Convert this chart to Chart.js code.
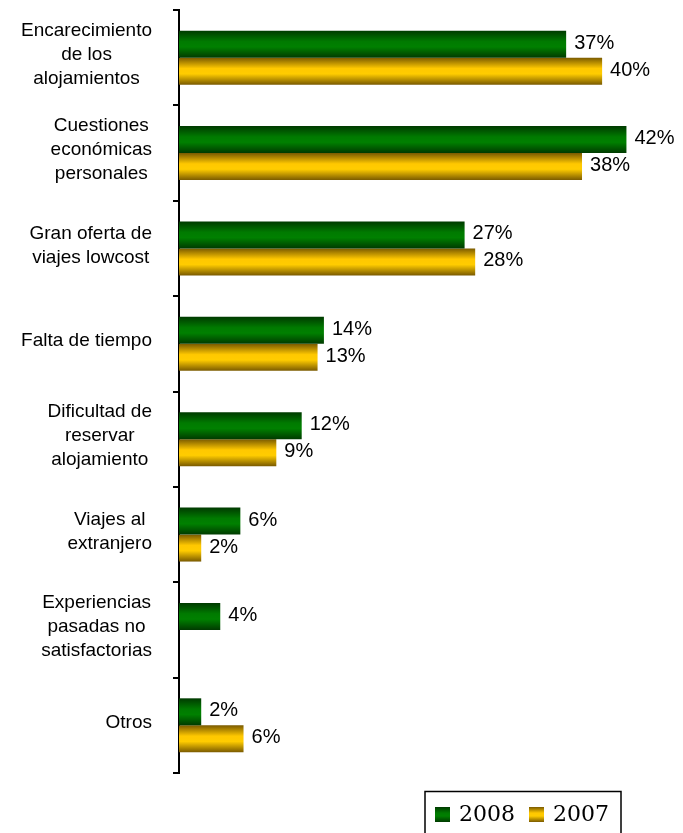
<!DOCTYPE html>
<html>
<head>
<meta charset="utf-8">
<script src="https://cdn.jsdelivr.net/npm/chart.js@4/dist/chart.umd.min.js"></script>
<style>
  html, body { margin: 0; padding: 0; background: #fff; }
  canvas { display: block; }
</style>
</head>
<body>
<canvas id="grafico" width="683" height="833"></canvas>
<script>
// Datos
const categorias = [
    ['Encarecimiento', 'de los', 'alojamientos'],
    ['Cuestiones', 'económicas', 'personales'],
    ['Gran oferta de', 'viajes lowcost'],
    ['Falta de tiempo'],
    ['Dificultad de', 'reservar', 'alojamiento'],
    ['Viajes al', 'extranjero'],
    ['Experiencias', 'pasadas no', 'satisfactorias'],
    ['Otros']
];
const series = ['2008', '2007'];
const valores2008 = [36.6, 42.3, 27.0, 13.7, 11.6, 5.8, 3.9, 2.1];
const valores2007 = [40.0, 38.1, 28.0, 13.1, 9.2, 2.1, null, 6.1];

const CAT_PCT = 0.566;
const FUENTE = '"Liberation Sans", Arial, sans-serif';

// Degradados verticales (oscuro en bordes, claro en el centro)
const tonos = {
    verde: ['#003a00', '#007a00', '#008000', '#003a00'],
    oro: ['#7a5a00', '#ffc800', '#ffcc00', '#7a5a00']
};

function pintarDegradado(g, t) {
    g.addColorStop(0, t[0]);
    g.addColorStop(0.4, t[1]);
    g.addColorStop(0.6, t[2]);
    g.addColorStop(1, t[3]);
    return g;
}

function degradadoBarra(t) {
    return function(context) {
        const chart = context.chart;
        const ya = chart.scales.y;
        if (!ya || context.dataIndex === undefined) return t[2];
        const cat = (ya.bottom - ya.top) / categorias.length;
        const h = cat * CAT_PCT / series.length;
        const c = ya.getPixelForValue(context.dataIndex);
        const top = c - h * series.length / 2 + context.datasetIndex * h;
        if (!isFinite(top) || !isFinite(h) || h <= 0) return t[2];
        return pintarDegradado(chart.ctx.createLinearGradient(0, top, 0, top + h), t);
    };
}

// Etiquetas de categorías, valores y leyenda
const etiquetasPlugin = {
    id: 'etiquetas',
    afterDraw(chart) {
        const ctx = chart.ctx;
        const ya = chart.scales.y;
        ctx.save();
        ctx.fillStyle = '#000';
        ctx.textBaseline = 'middle';

        // categorías: bloque alineado a la derecha, líneas centradas
        ctx.font = '19px ' + FUENTE;
        ctx.textAlign = 'center';
        categorias.forEach((lineas, i) => {
            const cy = ya.getPixelForValue(i) - 3;
            const ancho = Math.max(...lineas.map(l => ctx.measureText(l).width));
            const cx = 152 - ancho / 2;
            lineas.forEach((l, j) => {
                ctx.fillText(l, cx, cy + (j - (lineas.length - 1) / 2) * 24);
            });
        });

        // valores
        ctx.font = '20px ' + FUENTE;
        ctx.textAlign = 'left';
        chart.data.datasets.forEach((ds, di) => {
            const meta = chart.getDatasetMeta(di);
            meta.data.forEach((el, i) => {
                const v = ds.data[i];
                if (v === null || v === undefined) return;
                ctx.fillText(Math.round(v) + '%', el.x + 8, el.y - 1);
            });
        });

        // leyenda con marco
        ctx.lineWidth = 1.5;
        ctx.strokeStyle = '#000';
        ctx.strokeRect(425, 791.5, 196, 60);
        const items = [
            { texto: series[0], t: tonos.verde, x: 435 },
            { texto: series[1], t: tonos.oro, x: 529 }
        ];
        ctx.font = '22px "DejaVu Serif", serif';
        items.forEach(it => {
            ctx.fillStyle = pintarDegradado(ctx.createLinearGradient(0, 807, 0, 822), it.t);
            ctx.fillRect(it.x, 807, 15, 15);
            ctx.fillStyle = '#000';
            ctx.fillText(it.texto, it.x + 24, 815);
        });
        ctx.restore();
    }
};

new Chart(document.getElementById('grafico'), {
    type: 'bar',
    data: {
        labels: categorias,
        datasets: [{
            label: series[0],
            data: valores2008,
            backgroundColor: degradadoBarra(tonos.verde),
            borderWidth: 0,
            categoryPercentage: CAT_PCT,
            barPercentage: 1
        }, {
            label: series[1],
            data: valores2007,
            backgroundColor: degradadoBarra(tonos.oro),
            borderWidth: 0,
            categoryPercentage: CAT_PCT,
            barPercentage: 1
        }]
    },
    options: {
        indexAxis: 'y',
        responsive: false,
        animation: false,
        layout: {
            padding: { left: 173, right: 28, top: 10, bottom: 60 }
        },
        plugins: {
            legend: { display: false },
            tooltip: { enabled: false }
        },
        scales: {
            x: {
                display: false,
                min: 0,
                max: 45
            },
            y: {
                ticks: { display: false },
                grid: {
                    drawOnChartArea: false,
                    color: '#000',
                    lineWidth: 2,
                    tickLength: 6,
                    offset: true
                },
                border: { color: '#000', width: 2 }
            }
        }
    },
    plugins: [etiquetasPlugin]
});
</script>
</body>
</html>
